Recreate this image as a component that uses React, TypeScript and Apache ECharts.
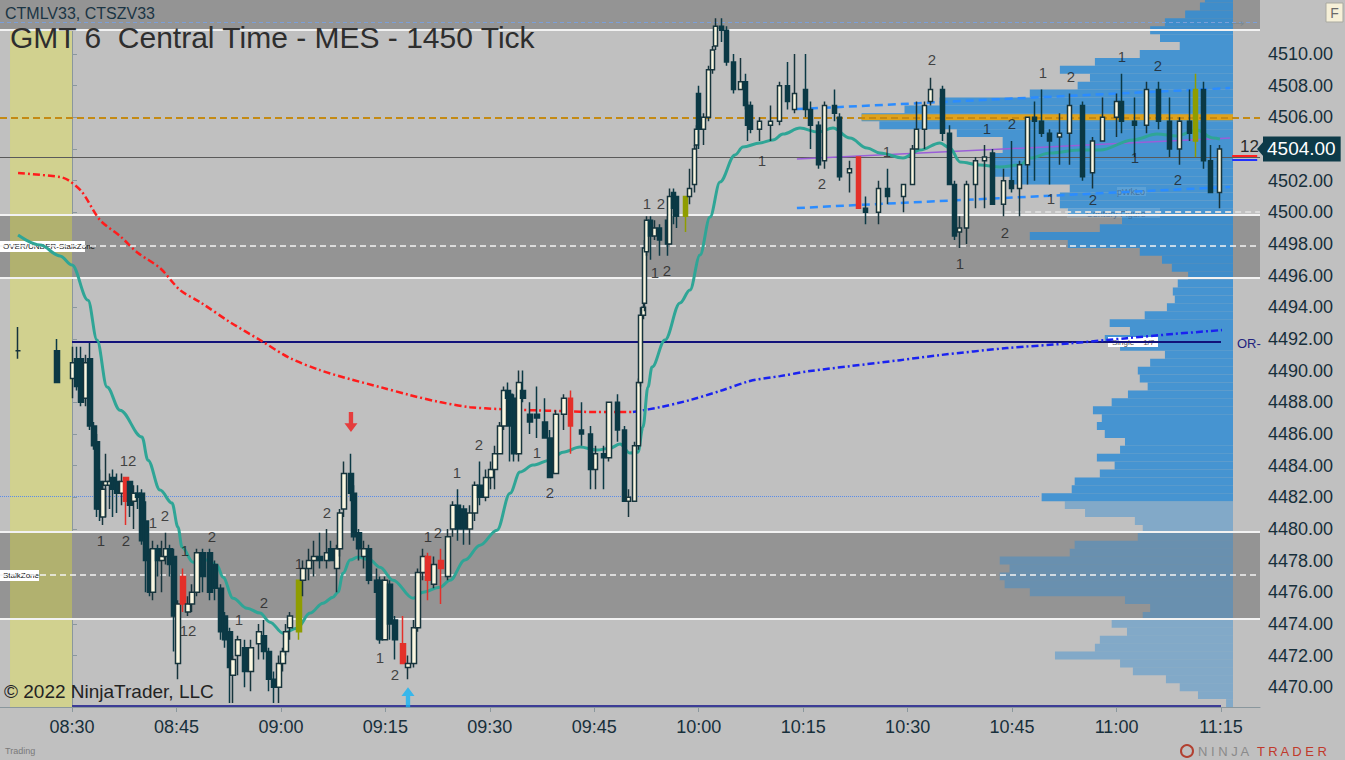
import React, { useEffect, useRef } from 'react';
import * as echarts from 'echarts';

const FONT = '"Liberation Sans", Arial, sans-serif';

// 1450 tick bars: [minutes after 08:30, open, high, low, close, paint]  (r = red bar, o = olive bar)
const bars: any[] = [
  [-7.75, 4491.25, 4492.75, 4490.75, 4491.25],
  [-2.15, 4491.25, 4492.0, 4489.25, 4489.25],
  [0.14, 4489.5, 4491.5, 4488.25, 4490.5],
  [0.72, 4490.75, 4491.5, 4488.75, 4489.0],
  [1.29, 4490.75, 4491.5, 4487.75, 4488.0],
  [2.01, 4488.25, 4491.0, 4487.75, 4490.5],
  [2.58, 4490.75, 4491.75, 4486.25, 4486.5],
  [3.16, 4486.5, 4486.75, 4485.0, 4485.25],
  [3.59, 4485.5, 4486.0, 4480.75, 4481.25],
  [4.02, 4483.0, 4483.75, 4480.5, 4481.25],
  [4.45, 4480.75, 4483.0, 4480.25, 4482.5],
  [4.88, 4482.75, 4484.75, 4480.75, 4483.0],
  [5.45, 4482.75, 4483.5, 4481.25, 4483.0],
  [5.88, 4483.25, 4483.75, 4480.75, 4482.5],
  [6.46, 4483.0, 4483.5, 4481.0, 4482.25],
  [7.18, 4482.25, 4483.5, 4481.5, 4483.0],
  [7.75, 4483.25, 4483.25, 4480.25, 4481.75, 'r'],
  [8.32, 4483.0, 4483.0, 4480.75, 4481.5],
  [8.9, 4481.75, 4482.75, 4480.0, 4482.25],
  [9.47, 4482.25, 4482.75, 4481.25, 4482.0],
  [10.05, 4482.25, 4482.5, 4479.0, 4479.25],
  [10.62, 4480.5, 4481.75, 4476.0, 4478.0],
  [11.2, 4478.25, 4478.75, 4475.75, 4476.0],
  [11.63, 4476.0, 4479.25, 4475.5, 4478.75],
  [12.34, 4478.75, 4479.0, 4477.0, 4478.0],
  [12.92, 4478.0, 4479.25, 4476.0, 4478.25],
  [13.49, 4478.25, 4479.75, 4477.75, 4478.75],
  [14.07, 4478.75, 4479.0, 4477.0, 4477.75],
  [14.64, 4478.25, 4478.75, 4472.25, 4474.5],
  [15.21, 4471.5, 4475.5, 4470.5, 4475.25],
  [15.93, 4477.0, 4477.5, 4474.75, 4475.25, 'r'],
  [16.65, 4474.75, 4475.75, 4474.5, 4475.25],
  [17.22, 4475.25, 4476.5, 4474.75, 4476.0],
  [17.94, 4476.0, 4478.75, 4475.75, 4478.5],
  [18.8, 4478.5, 4478.75, 4476.0, 4477.0],
  [19.81, 4478.5, 4478.75, 4475.5, 4476.0],
  [20.53, 4477.75, 4478.0, 4475.5, 4476.25],
  [21.39, 4476.25, 4476.5, 4473.0, 4473.5],
  [21.96, 4474.5, 4474.75, 4472.5, 4473.0],
  [22.68, 4473.5, 4473.75, 4469.0, 4471.25],
  [23.11, 4470.75, 4472.0, 4469.0, 4471.75],
  [23.83, 4472.0, 4473.25, 4470.75, 4473.0],
  [24.83, 4472.5, 4473.0, 4470.0, 4471.0],
  [25.69, 4471.0, 4473.0, 4469.75, 4472.5],
  [26.84, 4472.75, 4474.0, 4471.75, 4473.5],
  [27.56, 4473.25, 4474.25, 4471.75, 4472.25],
  [28.28, 4472.25, 4472.5, 4469.75, 4470.5],
  [28.99, 4470.5, 4471.0, 4469.0, 4470.0],
  [29.71, 4470.0, 4472.0, 4469.0, 4471.5],
  [30.29, 4471.5, 4472.5, 4471.0, 4472.25],
  [30.72, 4472.25, 4474.0, 4472.0, 4473.5],
  [31.29, 4473.75, 4474.75, 4473.0, 4474.5],
  [32.58, 4473.5, 4476.75, 4473.0, 4476.75, 'o'],
  [33.16, 4476.75, 4478.0, 4475.75, 4477.5],
  [34.02, 4477.5, 4478.75, 4476.75, 4478.0],
  [34.74, 4478.0, 4479.25, 4477.0, 4478.25],
  [35.6, 4478.25, 4479.75, 4477.5, 4478.0],
  [36.6, 4478.0, 4480.0, 4477.5, 4478.5],
  [37.18, 4478.75, 4479.25, 4478.0, 4478.0],
  [38.04, 4477.5, 4479.0, 4476.0, 4478.75],
  [38.47, 4478.75, 4481.25, 4478.25, 4481.0],
  [39.04, 4481.25, 4484.25, 4480.75, 4483.5],
  [40.05, 4483.5, 4484.75, 4481.75, 4482.25],
  [40.48, 4482.25, 4482.75, 4479.25, 4479.5],
  [41.19, 4479.75, 4480.0, 4478.0, 4478.75],
  [41.91, 4478.25, 4479.25, 4477.5, 4478.75],
  [42.63, 4478.75, 4479.0, 4476.5, 4476.75],
  [43.78, 4476.75, 4477.5, 4473.0, 4476.0],
  [44.21, 4476.75, 4477.0, 4472.75, 4473.0],
  [44.93, 4473.0, 4477.0, 4473.0, 4476.75],
  [45.64, 4476.5, 4476.75, 4473.0, 4474.0],
  [46.36, 4474.25, 4474.5, 4471.75, 4473.0],
  [47.51, 4472.75, 4474.5, 4471.5, 4471.5, 'r'],
  [48.23, 4471.25, 4472.0, 4470.5, 4471.5],
  [49.09, 4471.5, 4474.25, 4471.25, 4473.75],
  [49.66, 4473.75, 4477.5, 4473.5, 4477.25],
  [50.38, 4477.25, 4478.75, 4476.75, 4478.25],
  [51.1, 4478.25, 4478.5, 4475.5, 4476.75, 'r'],
  [51.96, 4476.5, 4478.25, 4476.25, 4477.75],
  [52.96, 4478.0, 4478.75, 4475.25, 4477.5, 'r'],
  [53.97, 4477.0, 4480.0, 4476.75, 4479.5],
  [54.69, 4480.0, 4481.75, 4479.5, 4481.5],
  [55.4, 4481.5, 4482.5, 4479.25, 4480.0],
  [56.27, 4481.25, 4481.5, 4479.0, 4480.0],
  [57.13, 4480.0, 4481.5, 4479.0, 4481.0],
  [57.84, 4481.0, 4483.0, 4480.5, 4482.75],
  [58.56, 4482.75, 4484.25, 4481.5, 4482.0],
  [59.42, 4482.0, 4483.75, 4481.75, 4483.25],
  [60.14, 4483.25, 4484.25, 4482.5, 4483.75],
  [60.71, 4483.75, 4485.25, 4482.5, 4484.75],
  [61.43, 4484.75, 4486.75, 4484.75, 4486.5],
  [62.01, 4486.5, 4489.0, 4486.25, 4488.75],
  [62.58, 4488.75, 4489.25, 4487.5, 4488.25],
  [62.87, 4488.5, 4488.75, 4484.25, 4486.5],
  [63.44, 4488.25, 4488.5, 4484.25, 4484.75],
  [64.16, 4484.75, 4490.0, 4484.25, 4489.25],
  [64.73, 4488.75, 4490.0, 4488.0, 4488.25],
  [65.74, 4487.25, 4488.0, 4486.0, 4486.75],
  [66.74, 4487.25, 4489.0, 4485.75, 4487.0],
  [67.89, 4486.75, 4488.25, 4485.75, 4485.75],
  [68.61, 4485.75, 4486.25, 4483.25, 4483.25],
  [69.47, 4483.5, 4487.5, 4483.5, 4487.25],
  [70.62, 4487.25, 4488.5, 4486.25, 4488.25],
  [71.62, 4488.25, 4488.75, 4484.75, 4486.5, 'r'],
  [73.2, 4486.25, 4488.0, 4485.25, 4486.0],
  [74.49, 4486.0, 4486.5, 4482.5, 4483.75],
  [75.21, 4483.75, 4485.25, 4482.5, 4484.75],
  [76.36, 4484.75, 4485.25, 4482.5, 4484.5],
  [77.08, 4484.5, 4488.0, 4484.25, 4488.0],
  [78.37, 4488.0, 4488.5, 4485.5, 4486.25],
  [79.37, 4486.25, 4486.5, 4481.75, 4481.75],
  [79.95, 4481.75, 4482.5, 4480.75, 4482.0],
  [80.81, 4481.75, 4485.5, 4481.75, 4485.25],
  [81.38, 4485.25, 4489.5, 4485.0, 4489.25],
  [81.67, 4489.25, 4494.0, 4489.0, 4493.5],
  [82.1, 4493.5, 4494.5, 4493.25, 4494.0],
  [82.24, 4494.25, 4498.25, 4493.75, 4497.75],
  [82.53, 4497.5, 4499.75, 4497.25, 4499.5],
  [83.1, 4499.5, 4499.75, 4497.0, 4498.5],
  [83.68, 4498.5, 4499.5, 4498.25, 4499.0],
  [84.4, 4499.0, 4499.25, 4497.25, 4498.25],
  [85.55, 4499.5, 4499.75, 4497.25, 4498.0],
  [85.83, 4498.0, 4501.5, 4498.0, 4501.0],
  [86.41, 4501.25, 4501.5, 4499.25, 4500.25],
  [86.84, 4501.0, 4501.0, 4499.0, 4499.75],
  [88.13, 4499.75, 4501.0, 4498.75, 4501.0, 'o'],
  [88.7, 4501.0, 4502.75, 4500.5, 4501.5],
  [89.42, 4501.75, 4504.25, 4501.25, 4504.0],
  [89.71, 4504.25, 4505.5, 4504.0, 4505.25],
  [90.0, 4507.5, 4508.0, 4504.0, 4505.25],
  [90.71, 4505.25, 4506.25, 4504.25, 4506.0],
  [91.43, 4506.0, 4509.25, 4505.75, 4509.0],
  [92.01, 4509.0, 4510.5, 4508.75, 4510.25],
  [92.44, 4510.5, 4512.25, 4510.25, 4511.75],
  [93.3, 4511.75, 4512.25, 4510.75, 4511.5],
  [94.01, 4511.5, 4511.75, 4509.25, 4509.5],
  [95.02, 4509.5, 4510.0, 4507.5, 4507.75],
  [96.02, 4507.75, 4509.75, 4507.75, 4508.25],
  [96.74, 4508.25, 4508.75, 4506.5, 4506.75],
  [97.03, 4506.75, 4507.0, 4504.5, 4505.5],
  [97.46, 4506.75, 4507.0, 4505.0, 4505.25],
  [98.75, 4505.25, 4506.0, 4504.5, 4505.75],
  [100.33, 4505.5, 4506.75, 4504.5, 4505.75],
  [101.62, 4505.75, 4508.25, 4505.5, 4508.0],
  [102.77, 4508.0, 4509.5, 4506.5, 4507.0],
  [103.77, 4506.5, 4510.0, 4506.25, 4507.5],
  [105.35, 4507.75, 4510.0, 4506.0, 4506.5],
  [106.07, 4506.5, 4507.0, 4504.0, 4505.5],
  [107.22, 4505.5, 4505.75, 4502.75, 4503.0],
  [108.08, 4503.25, 4507.0, 4502.75, 4506.75],
  [109.52, 4506.75, 4507.75, 4505.75, 4506.25],
  [110.23, 4506.0, 4506.25, 4502.0, 4502.25],
  [111.67, 4502.5, 4503.25, 4501.25, 4502.75],
  [112.96, 4503.5, 4503.5, 4500.25, 4500.25, 'r'],
  [113.97, 4500.25, 4501.0, 4499.25, 4500.0],
  [115.83, 4500.0, 4502.0, 4499.25, 4501.5],
  [117.12, 4501.5, 4502.75, 4500.5, 4501.0],
  [119.42, 4501.0, 4501.75, 4500.0, 4501.75],
  [120.71, 4501.75, 4504.25, 4501.75, 4504.0],
  [121.29, 4504.0, 4507.0, 4504.0, 4505.25],
  [122.43, 4505.25, 4507.0, 4504.0, 4506.75],
  [123.3, 4507.0, 4508.5, 4506.75, 4507.75],
  [125.02, 4507.75, 4508.0, 4504.5, 4505.0],
  [126.02, 4505.0, 4505.5, 4501.75, 4501.75],
  [126.74, 4501.75, 4502.0, 4498.25, 4498.5],
  [127.46, 4498.75, 4499.75, 4497.75, 4499.0],
  [128.46, 4499.0, 4502.0, 4498.0, 4501.75],
  [129.75, 4501.75, 4503.5, 4500.25, 4503.25],
  [131.05, 4503.25, 4504.25, 4500.25, 4503.5],
  [132.19, 4503.75, 4504.0, 4500.5, 4500.5],
  [133.77, 4500.5, 4502.75, 4499.75, 4502.0],
  [134.92, 4502.0, 4504.5, 4501.25, 4501.5],
  [136.07, 4501.5, 4503.25, 4499.75, 4503.0],
  [137.22, 4503.0, 4506.0, 4501.75, 4506.0],
  [138.22, 4506.0, 4507.0, 4502.0, 4505.75],
  [139.23, 4505.75, 4507.75, 4504.75, 4505.0],
  [140.38, 4505.0, 4505.25, 4501.75, 4504.5],
  [141.81, 4504.75, 4506.25, 4503.0, 4505.0],
  [143.25, 4505.0, 4507.5, 4503.0, 4506.75],
  [145.11, 4506.75, 4507.0, 4502.0, 4502.25],
  [146.55, 4502.5, 4504.75, 4501.5, 4504.5],
  [147.98, 4504.5, 4507.25, 4504.5, 4506.0],
  [149.99, 4506.0, 4507.5, 4504.75, 4507.0],
  [150.71, 4507.0, 4508.75, 4505.0, 4505.75],
  [152.58, 4505.75, 4507.25, 4503.5, 4505.5],
  [154.3, 4505.5, 4508.25, 4505.0, 4507.75],
  [156.02, 4507.75, 4508.25, 4505.25, 4505.75],
  [157.59, 4505.75, 4507.25, 4503.5, 4504.0],
  [159.03, 4504.0, 4506.0, 4503.0, 4505.75],
  [160.47, 4505.75, 4507.75, 4504.5, 4505.0],
  [161.33, 4504.5, 4508.75, 4503.5, 4507.75, 'o'],
  [162.48, 4507.75, 4508.25, 4502.75, 4503.25],
  [163.48, 4503.25, 4504.25, 4501.25, 4501.25],
  [164.78, 4501.25, 4504.25, 4500.25, 4504.0],
];

// moving average (teal)
const emaLine = [
  [-7.75, 4498.56], [-4.6, 4497.93], [-1.72, 4497.24], [0, 4496.67], [2.3, 4494.45], [3.59, 4491.93],
  [5.03, 4488.96], [6.89, 4487.5], [10.05, 4485.8], [10.91, 4484.34], [12.64, 4482.45], [14.36, 4481.63],
  [15.22, 4480.11], [15.8, 4478.85], [17.37, 4477.9], [19.39, 4478.03], [20.82, 4477.71], [21.68, 4476.95],
  [23.12, 4475.62], [25.13, 4474.99], [27, 4474.68], [28.43, 4474.11], [30.3, 4473.41], [32.31, 4473.73],
  [34.18, 4474.68], [36.04, 4475.31], [37.48, 4475.69], [38.2, 4476], [38.92, 4477.2], [39.92, 4478.03],
  [41.07, 4478.22], [42.79, 4478.03], [44.23, 4477.58], [46.1, 4476.76], [48.97, 4475.62], [50.4, 4476],
  [52.84, 4476.32], [54.28, 4476.76], [56.43, 4478.03], [58.59, 4478.97], [61.03, 4479.92], [62.9, 4482.26],
  [64.33, 4483.59], [66.2, 4484.03], [68.64, 4484.34], [70.51, 4484.85], [72.95, 4485.17], [75.39, 4484.98],
  [77.26, 4485.1], [78.69, 4485.36], [80.13, 4484.79], [81.28, 4484.85], [81.99, 4486.43], [82.71, 4488.96],
  [83.29, 4490.22], [85.15, 4491.93], [87.31, 4494.27], [88.74, 4495.09], [90.18, 4497.3], [91.62, 4499.7],
  [93.05, 4501.91], [95.21, 4503.62], [96.35, 4504.12], [98.79, 4504.38], [100.66, 4504.57], [102.1, 4504.94],
  [104.54, 4505.32], [107.12, 4505.07], [109.28, 4505.32], [111.72, 4504.69], [114.16, 4504.06], [116.03, 4503.74],
  [119.33, 4503.43], [121.77, 4503.93], [124.64, 4504.38], [126.08, 4504.06], [127.51, 4503.18], [130.39, 4502.99],
  [133.26, 4502.86], [136.13, 4502.99], [137.56, 4503.43], [140.44, 4503.74], [144.75, 4503.93], [147.62, 4503.93],
  [152.36, 4504.57], [155.8, 4504.94], [158.67, 4504.82], [161.55, 4505.2], [163.84, 4504.69], [164.85, 4504.63],
];

// session VWAP, falling (red) then rising (blue)
const vwapDown = [
  [-7.75, 4502.48], [-1.72, 4502.23], [-0.57, 4502.04], [1.44, 4501.28], [4.02, 4499.51], [6.89, 4498.5],
  [9.48, 4497.43], [12.64, 4496.48], [15.51, 4495.09], [18.38, 4494.33], [22.69, 4493.06], [27, 4491.93],
  [31.3, 4490.79], [35.61, 4490.03], [39.92, 4489.46], [44.23, 4488.96], [48.54, 4488.45], [52.84, 4488.01],
  [57.15, 4487.69], [61.46, 4487.57], [65.77, 4487.5], [70.51, 4487.44], [75.39, 4487.38], [80.56, 4487.38],
];
const vwapUp = [
  [80.56, 4487.38], [84.43, 4487.69], [88.74, 4488.14], [93.05, 4488.71], [97.36, 4489.34], [101.67, 4489.65],
  [105.97, 4489.97], [111.72, 4490.28], [118.9, 4490.66], [124.64, 4490.98], [134.26, 4491.42], [143.74, 4491.74],
  [151.49, 4492.05], [158.1, 4492.31], [165.14, 4492.56],
];

// drawn channel
const upperChannel = [[104.1, 4506.52], [166.3, 4507.85]];
const lowerChannel = [[104.1, 4500.27], [166.3, 4501.6]];
const midTrend = [[104.1, 4503.36], [166.3, 4504.69]];

// swing counts [minute, price, text]
const swingMarks: any[] = [
  [8.04, 4484.34, '12'], [4.16, 4479.29, '1'], [7.75, 4479.29, '2'], [11.63, 4480.43, '1'], [13.35, 4480.87, '2'],
  [16.23, 4478.66, '1'], [20.1, 4479.54, '2'], [16.66, 4473.6, '12'], [23.98, 4474.3, '1'], [27.57, 4475.37, '2'],
  [32.6, 4477.84, '1'], [36.62, 4481.06, '2'], [44.23, 4471.9, '1'], [46.38, 4470.82, '2'], [51.12, 4479.54, '1'],
  [52.56, 4479.79, '2'], [55.29, 4483.58, '1'], [58.45, 4485.36, '2'], [66.77, 4484.85, '1'], [68.64, 4482.32, '2'],
  [82.57, 4500.58, '1'], [84.58, 4500.58, '2'], [83.72, 4496.22, '1'], [85.44, 4496.35, '2'], [99.08, 4503.3, '1'],
  [107.7, 4501.85, '2'], [117.03, 4503.81, '1'], [123.49, 4509.62, '2'], [127.51, 4496.79, '1'], [131.39, 4505.32, '1'],
  [134.98, 4505.58, '2'], [133.98, 4498.75, '2'], [139.43, 4508.8, '1'], [143.45, 4508.55, '2'], [140.58, 4500.85, '1'],
  [146.61, 4500.8, '2'], [150.78, 4509.81, '1'], [155.95, 4509.3, '2'], [152.64, 4503.49, '1'], [158.82, 4502.04, '2'],
];

const sellArrows = [[40.06, 4486.75]];
const buyArrows = [[48.25, 4469.37]];

// volume profile, rows of 0.5 from 4469.00 upward
const profileLow = 4469;
const profileStep = 0.5;
const profileVolume = [
  14, 71, 108, 136, 203, 229, 361, 280, 270, 215, 246, 183, 168, 219, 412, 463, 473, 453, 473, 331,
  321, 193, 183, 199, 300, 341, 388, 327, 321, 270, 240, 276, 229, 219, 260, 276, 266, 284, 246, 213,
  173, 189, 193, 168, 138, 229, 260, 209, 250, 179, 134, 118, 122, 112, 91, 124, 144, 189, 335, 412,
  270, 225, 335, 351, 351, 331, 453, 483, 487, 487, 467, 467, 560, 717, 753, 666, 595, 412, 315, 290,
  351, 280, 189, 108, 148, 168, 138, 97, 67, 57,
];
const valueAreaLow = 4482;
const pocPrice = 4506;

// zones and levels
const grayZones = [[4511.5, 4513.41], [4495.85, 4499.83], [4474.35, 4479.8]];
const zoneMids = [4497.87, 4477.1];
const orLevel = 4491.8;
const orLow = 4468.86;
const pivotLevel = 4506;
const lastLine = 4503.5;
const priorLevel = 4482.05;
const centuryFigure = 4500.02;
const topLevel = 4512.0;

const timeTicks = [0, 15, 30, 45, 60, 75, 90, 105, 120, 135, 150, 165];
const priceTicks = [4470, 4472, 4474, 4476, 4478, 4480, 4482, 4484, 4486, 4488, 4490, 4492, 4494, 4496, 4498, 4500, 4502, 4504, 4506, 4508, 4510];

const X_MIN = -10.34;
const X_MAX = 170.6;
const Y_MIN = 4468.75;
const Y_MAX = 4513.41;

const paint: any = { r: '#e3302a', o: '#8f9d00' };

const App = () => {
  const chartRef = useRef<HTMLDivElement>(null);

  useEffect(() => {
    document.body.style.margin = '0';
    document.body.style.background = '#c0c0c0';
    if (!chartRef.current) return;
    const chart = echarts.init(chartRef.current, null, { renderer: 'svg' });

    const candleData = bars.map(([t, o, h, l, c, tag]) => {
      const item: any = { value: [t, o, c, l, h] };
      if (tag) {
        const col = paint[tag];
        item.itemStyle = { color: col, color0: col, borderColor: col, borderColor0: col };
      }
      return item;
    });
    const lastClose = bars[bars.length - 1][4];

    const white = { color: '#f2f2f2', width: 2, type: 'solid' };
    const whiteDash = { color: '#f4f4f4', width: 1.5, type: [6, 4] };

    const fmtTime = (v: number) => {
      const m = Math.round(510 + v);
      return String(Math.floor(m / 60)).padStart(2, '0') + ':' + String(m % 60).padStart(2, '0');
    };

    const option: any = {
      animation: false,
      backgroundColor: '#c0c0c0',
      grid: { left: 0, right: 85, top: 0, bottom: 53 },
      xAxis: [
        {
          type: 'value',
          min: X_MIN,
          max: X_MAX,
          splitLine: { show: false },
          axisLine: { show: true, lineStyle: { color: '#8a979d', width: 1 } },
          axisTick: { show: true, length: 5, customValues: timeTicks, lineStyle: { color: '#8a979d' } },
          axisLabel: { customValues: timeTicks, formatter: fmtTime, color: '#172f3b', fontSize: 18, fontFamily: FONT, margin: 11 },
        },
        { type: 'value', inverse: true, min: -54.74, max: 2500, show: false },
      ],
      yAxis: {
        type: 'value',
        position: 'right',
        min: Y_MIN,
        max: Y_MAX,
        splitLine: { show: false },
        axisLine: { show: true, lineStyle: { color: '#8a979d', width: 1 } },
        axisTick: { show: true, length: 5, customValues: priceTicks, lineStyle: { color: '#8a979d' } },
        axisLabel: {
          customValues: priceTicks,
          formatter: (v: number) => v.toFixed(2),
          color: '#172f3b',
          fontSize: 18,
          fontFamily: FONT,
          margin: 8,
        },
      },
      series: [
        {
          type: 'custom',
          name: 'profile',
          xAxisIndex: 1,
          yAxisIndex: 0,
          z: 2,
          silent: true,
          clip: true,
          encode: { x: 0, y: 1 },
          data: profileVolume.map((v, i) => [v, profileLow + i * profileStep]),
          renderItem: (params: any, api: any) => {
            const v = api.value(0);
            const p = api.value(1);
            const right = api.coord([0, p + profileStep / 2]);
            const left = api.coord([v, p - profileStep / 2]);
            const fill = p >= valueAreaLow ? 'rgba(48,140,211,0.85)' : 'rgba(48,140,211,0.43)';
            const rect = {
              type: 'rect',
              shape: { x: left[0], y: right[1], width: right[0] - left[0], height: left[1] - right[1] },
              style: { fill },
            };
            if (p === pocPrice) {
              const mid = api.coord([v, p]);
              return {
                type: 'group',
                children: [
                  rect,
                  { type: 'rect', shape: { x: left[0], y: mid[1] - 3, width: right[0] - left[0], height: 6 }, style: { fill: '#dfa21c' } },
                ],
              };
            }
            return rect;
          },
        },
        {
          type: 'line',
          data: upperChannel,
          showSymbol: false,
          silent: true,
          z: 4,
          lineStyle: { color: '#2b8cff', width: 2.5, type: [8, 5] },
        },
        {
          type: 'line',
          data: lowerChannel,
          showSymbol: false,
          silent: true,
          z: 4,
          lineStyle: { color: '#2b8cff', width: 2.5, type: [8, 5] },
        },
        {
          type: 'line',
          data: midTrend,
          showSymbol: false,
          silent: true,
          z: 4,
          lineStyle: { color: '#9a5ed8', width: 1.5 },
        },
        {
          type: 'line',
          data: vwapDown,
          showSymbol: false,
          smooth: 0.3,
          silent: true,
          z: 4,
          lineStyle: { color: '#ff1c1c', width: 2.5, type: [7, 3, 2, 3] },
        },
        {
          type: 'line',
          data: vwapUp,
          showSymbol: false,
          smooth: 0.3,
          silent: true,
          z: 4,
          lineStyle: { color: '#1a22f0', width: 2.5, type: [7, 3, 2, 3] },
        },
        {
          type: 'line',
          data: emaLine,
          showSymbol: false,
          smooth: 0.35,
          smoothMonotone: 'x',
          silent: true,
          z: 5,
          lineStyle: { color: '#2fa596', width: 3 },
        },
        {
          type: 'candlestick',
          z: 6,
          barWidth: 5,
          silent: true,
          dimensions: ['t', 'open', 'close', 'lowest', 'highest'],
          encode: { x: 0, y: [1, 2, 3, 4] },
          itemStyle: { color: '#fbf7e1', color0: '#0b3945', borderColor: '#17343c', borderColor0: '#0b3945', borderWidth: 1.5 },
          data: candleData,
          markArea: {
            silent: true,
            z: 1,
            data: [
              ...grayZones.map(([a, b]) => [{ yAxis: a, itemStyle: { color: '#949494' } }, { yAxis: b }]),
              [{ xAxis: -8.9, yAxis: Y_MIN, itemStyle: { color: 'rgba(255,255,10,0.27)' } }, { xAxis: 0, yAxis: 4511.5 }],
            ],
          },
          markLine: {
            silent: true,
            z: 3,
            symbol: ['none', 'none'],
            label: { show: false },
            data: [
              ...grayZones.map(([a]) => ({ yAxis: a, lineStyle: white })),
              ...grayZones.slice(1).map(([, b]) => ({ yAxis: b, lineStyle: white })),
              ...zoneMids.map((m) => ({ yAxis: m, lineStyle: whiteDash })),
              { yAxis: topLevel, lineStyle: { color: '#7b9fd8', width: 1, type: [4, 3] } },
              { yAxis: pivotLevel, lineStyle: { color: '#c48a14', width: 2, type: [7, 4] } },
              { yAxis: lastLine, lineStyle: { color: '#5a5a5a', width: 1, type: 'solid' } },
              [{ coord: [X_MIN, priorLevel], lineStyle: { color: '#5a8be8', width: 1, type: 'dotted' } }, { coord: [139, priorLevel] }],
              [{ coord: [0, orLevel], lineStyle: { color: '#12127a', width: 2, type: 'solid' } }, { coord: [165, orLevel] }],
              [{ coord: [0, orLow], lineStyle: { color: '#3c3c96', width: 2, type: 'solid' } }, { coord: [165, orLow] }],
              [{ coord: [134, centuryFigure], lineStyle: { color: '#dadada', width: 2, type: [6, 4] } }, { coord: [X_MAX, centuryFigure] }],
              [{ coord: [166.6, lastLine + 0.05], lineStyle: { color: '#ff2020', width: 2, type: 'solid' } }, { coord: [170.2, lastLine + 0.05] }],
              [{ coord: [166.6, lastLine - 0.2], lineStyle: { color: '#2030ff', width: 2, type: 'solid' } }, { coord: [170.2, lastLine - 0.2] }],
              {
                yAxis: lastClose,
                lineStyle: { color: 'rgba(0,0,0,0)', width: 1, opacity: 1 },
                label: {
                  show: true,
                  position: 'end',
                  distance: 3,
                  formatter: (p: any) => Number(p.value).toFixed(2),
                  backgroundColor: '#0d3a48',
                  color: '#ffffff',
                  opacity: 1,
                  fontSize: 19,
                  fontFamily: FONT,
                  padding: [3, 5, 3, 4],
                },
              },
            ],
          },
        },
        {
          type: 'scatter',
          data: swingMarks.map(([t, p, s]) => ({ value: [t, p], label: { formatter: s } })),
          symbolSize: 0,
          silent: true,
          z: 7,
          label: { show: true, position: 'inside', fontSize: 15, color: '#1e1e1e', fontFamily: FONT },
        },
        {
          type: 'scatter',
          data: sellArrows,
          symbol: 'path://M4,0 H8 V9 H12 L6,16 L0,9 H4 Z',
          symbolSize: [13, 20],
          silent: true,
          z: 7,
          itemStyle: { color: '#ee1c1c' },
        },
        {
          type: 'scatter',
          data: buyArrows,
          symbol: 'path://M6,0 L12,7 H8 V16 H4 V7 H0 Z',
          symbolSize: [13, 20],
          silent: true,
          z: 7,
          itemStyle: { color: '#14b4f5' },
        },
      ],
      graphic: [
        { type: 'text', x: 5, y: 13, z: 100, style: { text: 'CTMLV33, CTSZV33', fill: '#1b3544', font: `16px ${FONT}`, verticalAlign: 'middle' } },
        { type: 'text', x: 10, y: 37, z: 100, style: { text: 'GMT 6  Central Time - MES - 1450 Tick', fill: '#2e2e2e', font: `30px ${FONT}`, verticalAlign: 'middle' } },
        { type: 'text', x: 4, y: 691, z: 100, style: { text: '\u00a9 2022 NinjaTrader, LLC', fill: '#232323', font: `19px ${FONT}`, verticalAlign: 'middle' } },
        { type: 'text', x: 5, y: 751, z: 100, style: { text: 'Trading', fill: '#7a7a7a', font: `9px ${FONT}`, verticalAlign: 'middle' } },
        { type: 'rect', z: 3, shape: { x: 0, y: 241, width: 85, height: 11 }, style: { fill: '#ffffff' } },
        { type: 'text', x: 3, y: 246.5, z: 3, style: { text: 'OVER/UNDER-StalkZone', fill: '#111111', font: `8px ${FONT}`, verticalAlign: 'middle' } },
        { type: 'rect', z: 3, shape: { x: 0, y: 570, width: 39, height: 11 }, style: { fill: '#ffffff' } },
        { type: 'text', x: 3, y: 575.5, z: 3, style: { text: 'StalkZone', fill: '#111111', font: `8px ${FONT}`, verticalAlign: 'middle' } },
        { type: 'rect', z: 3, shape: { x: 1067, y: 208, width: 93, height: 10 }, style: { fill: 'rgba(255,255,255,0.12)' } },
        { type: 'text', x: 1116, y: 213.5, z: 3, style: { text: 'Century Figure', fill: 'rgba(60,100,140,0.75)', font: `9px ${FONT}`, align: 'center', verticalAlign: 'middle' } },
        { type: 'rect', z: 3, shape: { x: 1117, y: 187, width: 29, height: 9 }, style: { fill: 'rgba(255,255,255,0.12)' } },
        { type: 'text', x: 1131, y: 191.5, z: 3, style: { text: 'pWkLo', fill: 'rgba(60,100,140,0.75)', font: `9px ${FONT}`, align: 'center', verticalAlign: 'middle' } },
        { type: 'rect', z: 3, shape: { x: 1108, y: 337, width: 50, height: 10 }, style: { fill: '#ffffff' } },
        { type: 'text', x: 1112, y: 342, z: 3, style: { text: 'Single    1/7', fill: '#555555', font: `8px ${FONT}`, verticalAlign: 'middle' } },
        { type: 'text', x: 1237, y: 343, z: 100, style: { text: 'OR-', fill: '#24247e', font: `13px ${FONT}`, verticalAlign: 'middle' } },
        { type: 'text', x: 1240, y: 146, z: 100, style: { text: '12', fill: '#2a2a2a', font: `17px ${FONT}`, verticalAlign: 'middle' } },
        { type: 'polygon', z: 100, shape: { points: [[1257, 149], [1264, 141], [1264, 157]] }, style: { fill: '#0d3a48' } },
        { type: 'text', x: 1238, y: 20, z: 100, style: { text: '\u2192', fill: '#7d8a90', font: `20px ${FONT}`, align: 'center', verticalAlign: 'middle' } },
        { type: 'rect', z: 100, shape: { x: 1326, y: 3, width: 17, height: 19 }, style: { fill: '#f6f0d8', stroke: '#a9a9a0', lineWidth: 1 } },
        { type: 'text', x: 1334.5, y: 12.5, z: 101, style: { text: 'F', fill: '#6a6a6a', font: `14px ${FONT}`, align: 'center', verticalAlign: 'middle' } },
        { type: 'circle', z: 100, shape: { cx: 1187, cy: 751, r: 6 }, style: { fill: 'none', stroke: '#b24030', lineWidth: 2 } },
        { type: 'text', x: 1198, y: 751, z: 100, style: { text: 'N I N J A', fill: '#8a8a8a', font: `13px ${FONT}`, verticalAlign: 'middle' } },
        { type: 'text', x: 1257, y: 751, z: 100, style: { text: 'T R A D E R', fill: '#c0392b', font: `13px ${FONT}`, verticalAlign: 'middle' } },
      ],
    };

    chart.setOption(option);
    return () => {
      chart.dispose();
    };
  }, []);

  return <div ref={chartRef} style={{ width: '1345px', height: '760px' }} />;
};

export default App;
